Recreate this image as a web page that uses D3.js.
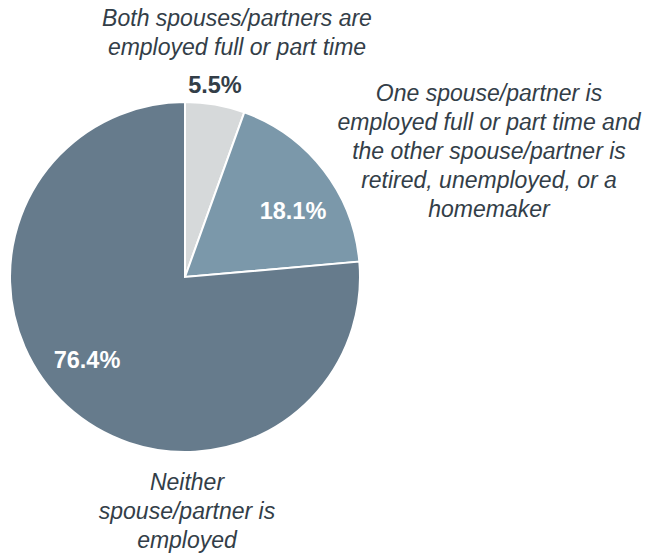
<!DOCTYPE html>
<html>
<head>
<meta charset="utf-8">
<style>
body { margin: 0; background: #fff; }
svg text { font-family: "Liberation Sans", Arial, sans-serif; }
</style>
</head>
<body>
<svg width="651" height="557"></svg>
<script src="https://d3js.org/d3.v7.min.js"></script>
<script>
var categories = [
  "Both spouses/partners are employed full or part time",
  "One spouse/partner is employed full or part time and the other spouse/partner is retired, unemployed, or a homemaker",
  "Neither spouse/partner is employed"
];
var values = [5.5, 18.1, 76.4];
var colors = ["#d6d9da", "#7b98aa", "#667b8c"];
var labelColors = ["#333e48", "#ffffff", "#ffffff"];
var catLines = [
  ["Both spouses/partners are", "employed full or part time"],
  ["One spouse/partner is", "employed full or part time and", "the other spouse/partner is", "retired, unemployed, or a", "homemaker"],
  ["Neither", "spouse/partner is", "employed"]
];

var svg = d3.select("svg");
var cx = 185, cy = 277, r = 175;

var pie = d3.pie().sort(null).value(function(d) { return d; });
var arcs = pie(values);
var arc = d3.arc().innerRadius(0).outerRadius(r);

var g = svg.append("g").attr("transform", "translate(" + cx + "," + cy + ")");

g.selectAll("path")
  .data(arcs)
  .enter().append("path")
  .attr("d", arc)
  .attr("fill", function(d, i) { return colors[i]; })
  .attr("stroke", "#fff")
  .attr("stroke-width", 2);

// value labels
var valuePos = [[30, -184], [108, -58], [-98, 91]];
g.selectAll("text.val")
  .data(arcs)
  .enter().append("text")
  .attr("class", "val")
  .attr("x", function(d, i) { return valuePos[i][0]; })
  .attr("y", function(d, i) { return valuePos[i][1]; })
  .attr("text-anchor", "middle")
  .attr("font-size", 23.5)
  .attr("font-weight", "bold")
  .attr("fill", function(d, i) { return labelColors[i]; })
  .text(function(d) { return d3.format(".1f")(d.value) + "%"; });

// category labels
var catPos = [[237, 26], [489, 101], [187, 490]];
catLines.forEach(function(lines, i) {
  var t = svg.append("text")
    .attr("text-anchor", "middle")
    .attr("font-size", 23)
    .attr("font-style", "italic")
    .attr("fill", "#333e48");
  lines.forEach(function(line, j) {
    t.append("tspan")
      .attr("x", catPos[i][0])
      .attr("y", catPos[i][1] + j * 29)
      .text(line);
  });
});
</script>
</body>
</html>
